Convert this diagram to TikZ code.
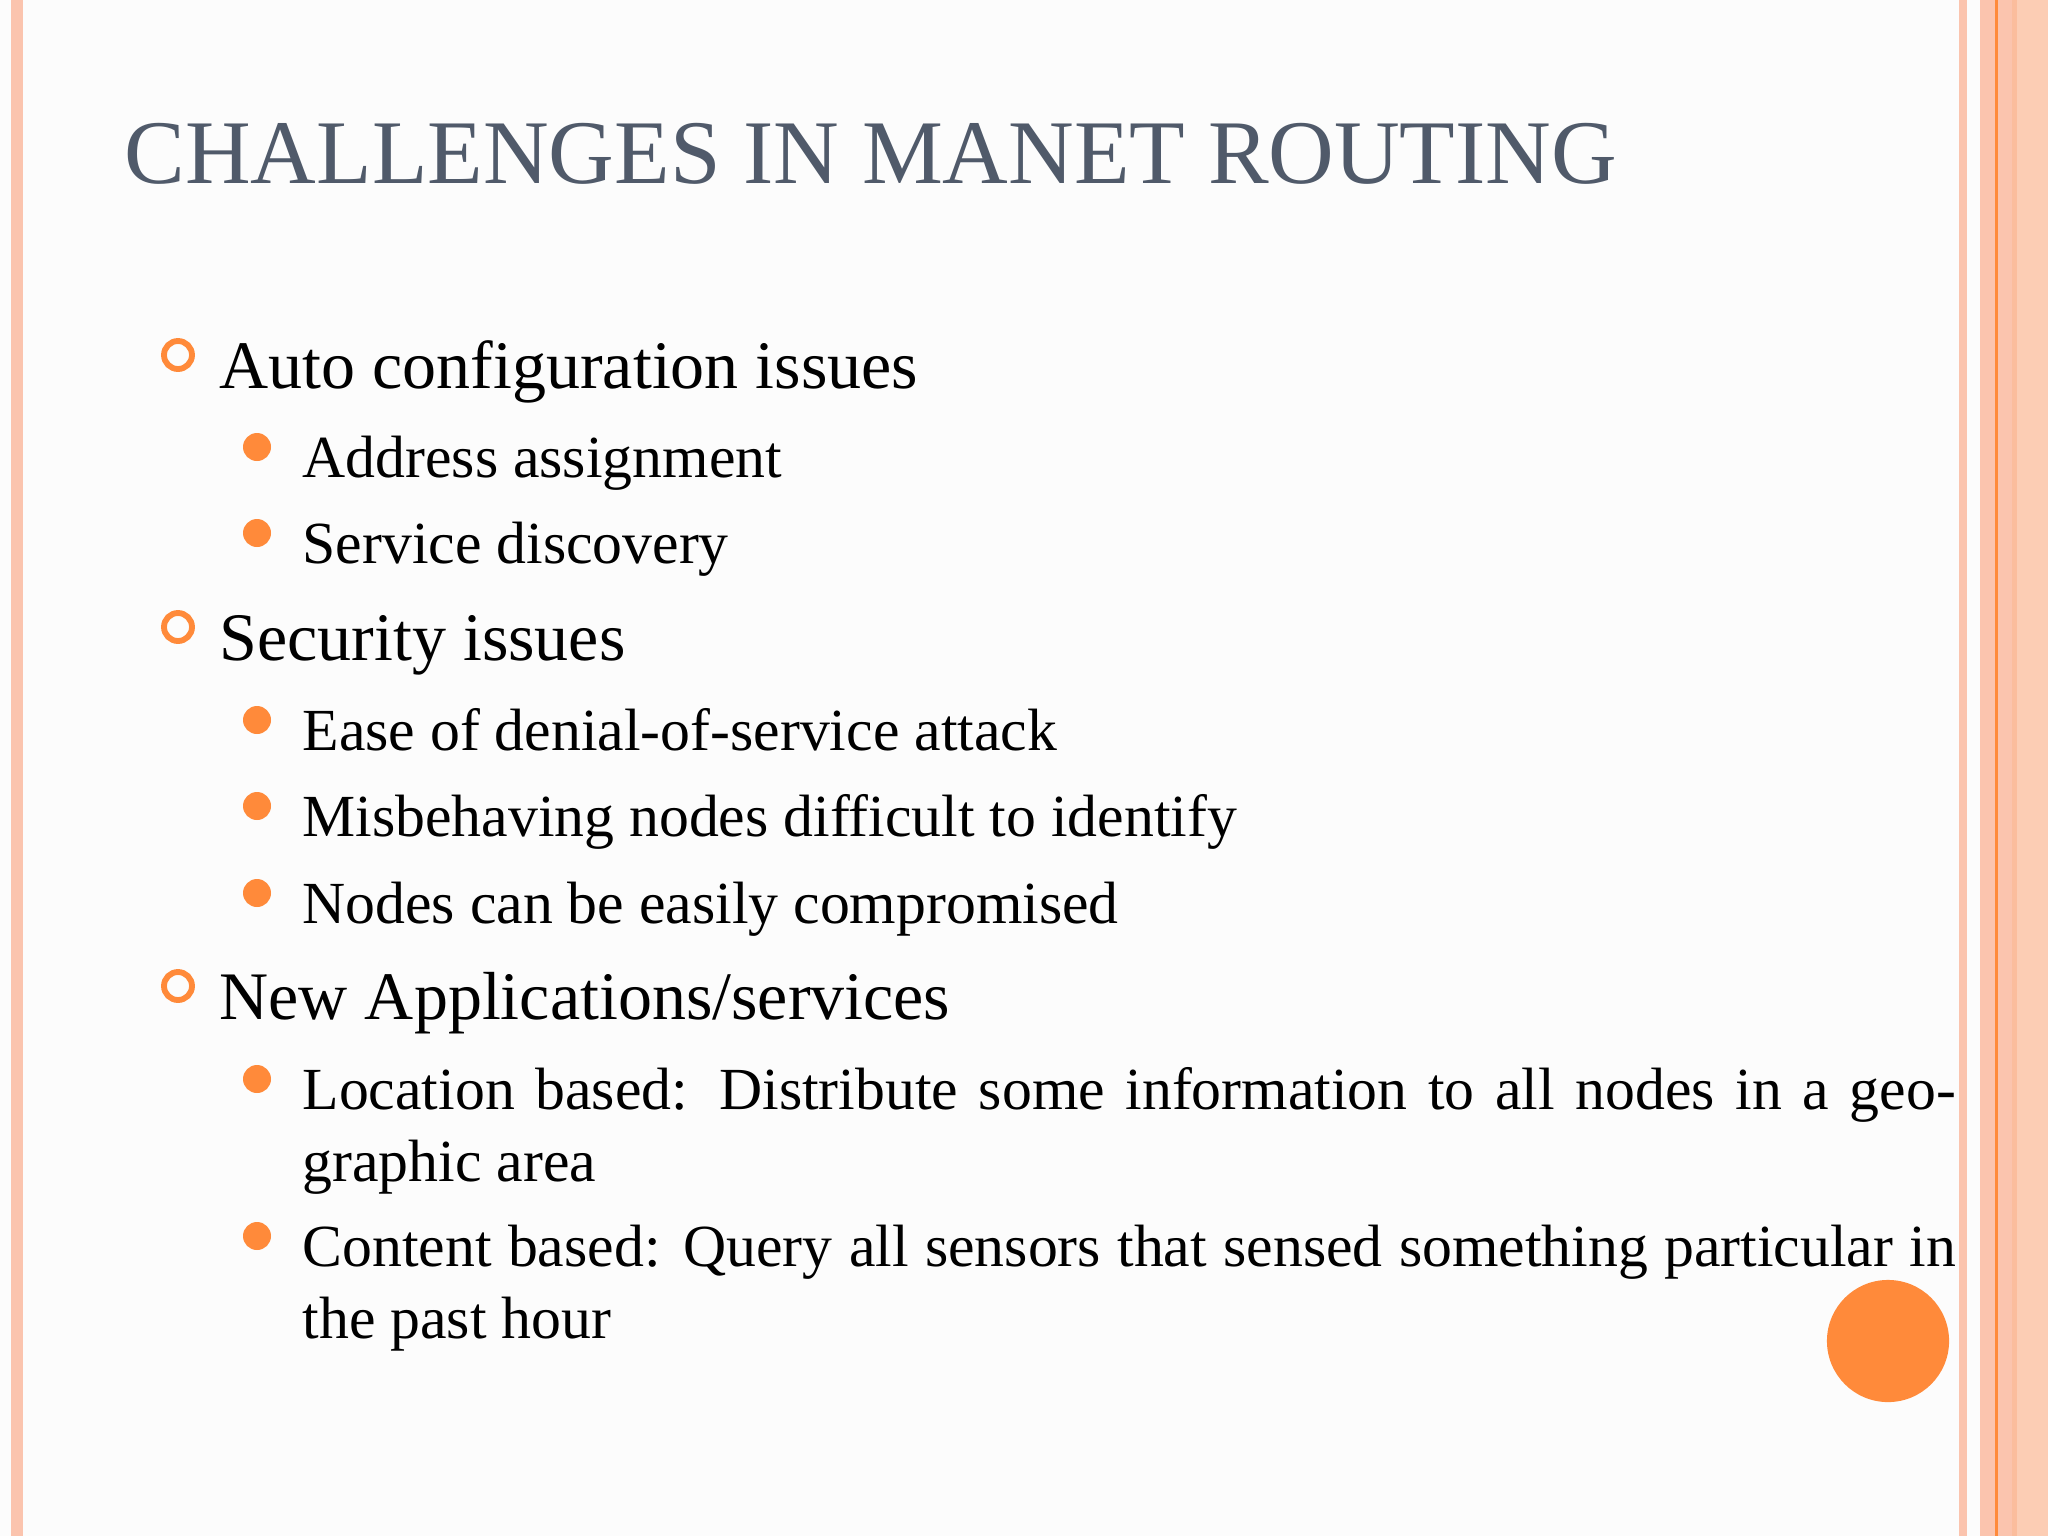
\documentclass[tikz,border=0pt]{standalone}
\usepackage{fontspec}
\setmainfont{Liberation Serif}
\definecolor{peach}{HTML}{FBC4AE}
\definecolor{peach2}{HTML}{FCCDB4}
\definecolor{org}{HTML}{FF8A3A}
\definecolor{ttl}{HTML}{505A6A}
\begin{document}
\begin{tikzpicture}[x=0.375pt,y=-0.375pt,
  ttlst/.style={anchor=base west,inner sep=0,text=ttl,font=\fontsize{34.1}{40}\selectfont},
  lone/.style={anchor=base west,inner sep=0,font=\fontsize{25.5}{30}\selectfont},
  ltwo/.style={anchor=base west,inner sep=0,font=\fontsize{22.4}{27}\selectfont},
  lpar/.style={anchor=base west,inner sep=0,text width=620pt,align=justify,font=\fontsize{22.4}{27.2}\selectfont},
  ring/.style={circle,draw=org,line width=2.2pt,minimum size=10.5pt,inner sep=0},
  dot/.style={circle,fill=org,minimum size=10.5pt,inner sep=0}]
\useasboundingbox (0,0) rectangle (2048,1536);
\fill[white!98!gray] (0,0) rectangle (2048,1536);
\fill[peach] (11,0) rectangle (23,1536);
\fill[peach] (1959,0) rectangle (1967,1536);
\fill[peach] (1980,0) rectangle (2012,1536);
\fill[peach2] (2012,0) rectangle (2048,1536);
\fill[peach!90!orange] (2012,0) rectangle (2017,1536);
\fill[org] (1995,0) rectangle (1998,1536);
\node[ttlst] (title) at (124,183) {CHALLENGES IN MANET ROUTING};
\node[ring] (r1) at (178,355) {};
\node[lone] (t1) at (219,388) {Auto configuration issues};
\node[dot] (d1) at (257,447) {};
\node[ltwo] (s1) at (302,477) {Address assignment};
\node[dot] (d2) at (257,533) {};
\node[ltwo] (s2) at (302,563) {Service discovery};
\node[ring] (r2) at (178,627) {};
\node[lone] (t2) at (219,660) {Security issues};
\node[dot] (d3) at (257,720) {};
\node[ltwo] (s3) at (302,750) {Ease of denial-of-service attack};
\node[dot] (d4) at (257,806) {};
\node[ltwo] (s4) at (302,836) {Misbehaving nodes difficult to identify};
\node[dot] (d5) at (257,893) {};
\node[ltwo] (s5) at (302,923) {Nodes can be easily compromised};
\node[ring] (r3) at (178,986) {};
\node[lone] (t3) at (219,1019) {New Applications/services};
\node[dot] (d6) at (257,1079) {};
\node[lpar] (s6) at (302,1109) {Location based: Distribute some information to all nodes in a geographic area};
\node[dot] (d7) at (257,1236) {};
\node[lpar] (s7) at (302,1266) {Content based: Query all sensors that sensed something particular in the past hour};
\node[circle,fill=org,minimum size=45.8pt,inner sep=0] (big) at (1888,1341) {};
\end{tikzpicture}
\end{document}
